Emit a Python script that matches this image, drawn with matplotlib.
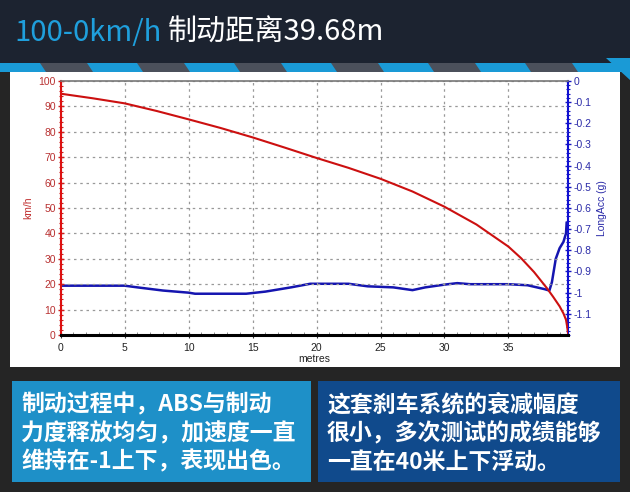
import matplotlib
matplotlib.use('Agg')
import matplotlib.pyplot as plt
from matplotlib.patches import Rectangle, Polygon
from matplotlib.ticker import MultipleLocator, FixedLocator

# ---- data ----
dist_speed = [0, 2.5, 5, 7.5, 10, 12.5, 15, 17.5, 20, 22.5, 25, 27.5, 30, 32.5,
              35, 36, 37, 38, 38.5, 39, 39.3, 39.5, 39.6, 39.68]
speed_kmh = [95, 93.2, 91.2, 88.2, 84.9, 81.5, 77.8, 73.8, 69.7, 65.8, 61.5, 56.5,
             50.5, 43.5, 34.8, 30.2, 24.8, 18.5, 15.0, 11.3, 8.5, 6.0, 3.0, 0]

dist_acc = [0, 5, 6, 8, 10, 10.5, 14.5, 16, 18, 19.5, 22.5, 24, 26, 27.5, 28.5,
            30, 31, 32, 35, 36.5, 37.8, 38.2, 38.4, 38.7, 39.0, 39.3, 39.5, 39.55]
acc_g = [-0.967, -0.967, -0.975, -0.99, -1.0, -1.005, -1.005, -0.995, -0.975, -0.958,
         -0.958, -0.97, -0.975, -0.988, -0.975, -0.962, -0.955, -0.96, -0.96, -0.965,
         -0.983, -0.99, -0.95, -0.84, -0.79, -0.76, -0.72, -0.67]

x_ticks = [0, 5, 10, 15, 20, 25, 30, 35]
speed_ticks = list(range(0, 101, 10))
acc_ticks = [0, -0.1, -0.2, -0.3, -0.4, -0.5, -0.6, -0.7, -0.8, -0.9, -1, -1.1]
acc_labels = ['0', '-0.1', '-0.2', '-0.3', '-0.4', '-0.5', '-0.6', '-0.7', '-0.8',
              '-0.9', '-1', '-1.1']

title_blue = '100-0km/h'
title_white = '制动距离39.68m'
left_lines = ['制动过程中，ABS与制动', '力度释放均匀，加速度一直', '维持在-1上下，表现出色。']
right_lines = ['这套刹车系统的衰减幅度', '很小，多次测试的成绩能够', '一直在40米上下浮动。']

W, H = 630, 492
fig = plt.figure(figsize=(6.3, 4.92), dpi=100)
fig.patch.set_facecolor('#252525')

CJK = ['Noto Sans CJK SC', 'DejaVu Sans']


def rect(x0, y0, x1, y1, color, z=0):
    r = Rectangle((x0 / W, 1 - y1 / H), (x1 - x0) / W, (y1 - y0) / H,
                  transform=fig.transFigure, facecolor=color, edgecolor='none', zorder=z)
    fig.add_artist(r)


def poly(pts, color, z=1):
    p = Polygon([(x / W, 1 - y / H) for x, y in pts], closed=True,
                transform=fig.transFigure, facecolor=color, edgecolor='none', zorder=z)
    fig.add_artist(p)


# header
rect(0, 0, W, 64, '#1c2330')
rect(0, 63, W, 72, '#4b505b')
x = -10
while x < W:
    poly([(x, 63), (x + 50, 63), (x + 56, 72), (x + 6, 72)], '#1a9ad6', 2)
    x += 97
poly([(606, 58), (630, 58), (630, 80)], '#1a9ad6', 2)

# white chart panel
rect(10, 72, 620, 367, 'white', 1)

# bottom boxes
rect(12, 381, 311, 482, '#1e90c8')
rect(318, 381, 620, 482, '#104a8c')

fig.text(14 / W, 1 - 33 / H, title_blue, color='#1f9fdc', fontsize=21,
         family=CJK, fontweight='light', va='center', ha='left')
fig.text(168 / W, 1 - 33 / H, title_white, color='white', fontsize=21,
         family=CJK, fontweight='light', va='center', ha='left')

for i, (l, r) in enumerate(zip(left_lines, right_lines)):
    yy = 1 - (405 + i * 28.5) / H
    fig.text(21 / W, yy, l, color='white', fontsize=16.5, family=CJK,
             fontweight='bold', va='center', ha='left')
    fig.text(327 / W, yy, r, color='white', fontsize=16.5, family=CJK,
             fontweight='bold', va='center', ha='left')

# chart
ax = fig.add_axes([60.7 / W, 1 - 335 / H, 507.6 / W, 254 / H])
ax.set_zorder(5)
ax2 = ax.twinx()
ax2.set_zorder(4)
ax.patch.set_visible(False)
ax2.patch.set_visible(True)
ax2.patch.set_facecolor('white')

ax.plot(dist_speed, speed_kmh, color='#cc1010', lw=1.5)
ax.set_xlim(0, 39.68)
ax.set_ylim(0, 100)
ax.xaxis.set_major_locator(FixedLocator(x_ticks))
ax.xaxis.set_minor_locator(MultipleLocator(1))
ax.yaxis.set_major_locator(FixedLocator(speed_ticks))
ax.yaxis.set_minor_locator(MultipleLocator(2))
ax.grid(True, which='major', color='#999999', linestyle=(0, (2, 3)), lw=0.9)
ax.set_axisbelow(True)
for lab in ax.get_xticklabels() + ax.get_yticklabels():
    lab.set_fontfamily('Liberation Sans')
    lab.set_fontsize(7.5)
ax.tick_params(axis='y', which='both', colors='#cc2020', labelcolor='#b83030',
               direction='inout', pad=1)
ax.tick_params(axis='y', which='major', length=5, width=1)
ax.tick_params(axis='y', which='minor', length=3, width=0.8)
ax.tick_params(axis='x', which='major', direction='inout', length=5, width=0.8,
               colors='#333333', labelcolor='#222222', pad=3)
ax.tick_params(axis='x', which='minor', direction='in', length=2.5, width=0.6,
               colors='#777777')
ax.spines['left'].set_color('#dd1010')
ax.spines['left'].set_linewidth(1.5)
ax.spines['bottom'].set_color('black')
ax.spines['bottom'].set_linewidth(2.2)
ax.spines['top'].set_color('#777777')
ax.spines['top'].set_linewidth(1.2)
ax.spines['right'].set_visible(False)
ax.set_xlabel('metres', fontsize=7.5, family='Liberation Sans', labelpad=1,
              color='#222222')
ax.set_ylabel('km/h', fontsize=7.5, family='Liberation Sans', color='#c03030',
              labelpad=4)

ax2.plot(dist_acc, acc_g, color='#1515b0', lw=1.8)
ax2.set_ylim(-1.2, 0)
ax2.yaxis.set_major_locator(FixedLocator(acc_ticks))
ax2.set_yticklabels(acc_labels)
ax2.yaxis.set_minor_locator(MultipleLocator(0.02))
for lab in ax2.get_yticklabels():
    lab.set_fontfamily('Liberation Sans')
    lab.set_fontsize(7.5)
ax2.tick_params(axis='y', which='both', colors='#1515c0', labelcolor='#2a2aa8',
                direction='inout', pad=1)
ax2.tick_params(axis='y', which='major', length=5, width=1)
ax2.tick_params(axis='y', which='minor', length=3, width=0.8)
ax2.spines['right'].set_color('#1010d0')
ax2.spines['right'].set_linewidth(1.5)
for s in ['left', 'top', 'bottom']:
    ax2.spines[s].set_visible(False)
ax2.set_ylabel('LongAcc (g)', fontsize=7.5, family='Liberation Sans',
               color='#2a2aa8', labelpad=4)

fig.savefig('out.png', dpi=100, facecolor=fig.get_facecolor())
